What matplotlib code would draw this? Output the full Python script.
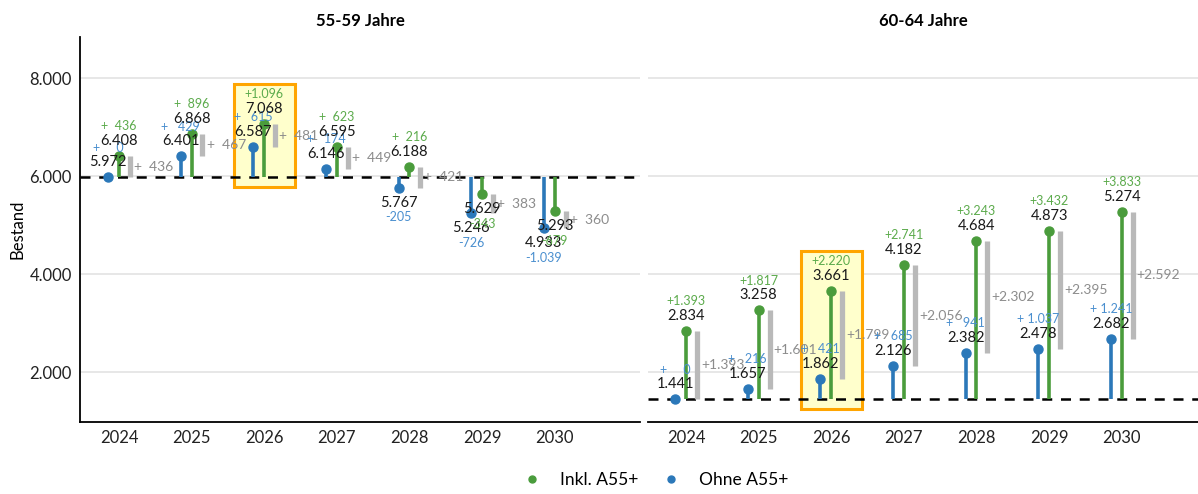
import matplotlib
matplotlib.use("Agg")
import matplotlib.pyplot as plt
from matplotlib.patches import Rectangle
from matplotlib.lines import Line2D

plt.rcParams["font.family"] = ["Lato", "DejaVu Sans"]

years = [2024, 2025, 2026, 2027, 2028, 2029, 2030]

# 55-59 Jahre
ohne_55 = [5972, 6401, 6587, 6146, 5767, 5246, 4933]
inkl_55 = [6408, 6868, 7068, 6595, 6188, 5629, 5293]
# 60-64 Jahre
ohne_60 = [1441, 1657, 1862, 2126, 2382, 2478, 2682]
inkl_60 = [2834, 3258, 3661, 4182, 4684, 4873, 5274]

highlight_year = 2026

GREEN = "#4a9c3c"
BLUE = "#2b78b9"
GREEN_TXT = "#5cab4c"
BLUE_TXT = "#4a8fcf"
GREY_BAR = "#b9b9b9"
GREY_TXT = "#8c8c8c"


def de(n):
    return f"{abs(n):,}".replace(",", ".")


def delta(n, width):
    if n < 0:
        return "-" + de(n)
    return "+" + de(n).rjust(width)


def panel(ax, ohne, inkl, title, xlim):
    base = ohne[0]
    ax.set_xlim(*xlim)
    ax.set_ylim(980, 8840)
    ax.grid(axis="y", color="#e3e3e3", linewidth=1.2, zorder=0)
    ax.set_axisbelow(True)

    i = years.index(highlight_year)
    ax.add_patch(Rectangle((highlight_year - 0.42, base - 200), 0.84,
                           inkl[i] + 820 - (base - 200),
                           facecolor="#ffffcc", edgecolor="#ffa500",
                           linewidth=2.2, zorder=1))

    ax.axhline(base, color="black", linestyle=(0, (4, 3.5)), linewidth=1.8, zorder=2)

    for y, o, k in zip(years, ohne, inkl):
        xb, xg, xr = y - 0.15, y, y + 0.15
        ax.plot([xb, xb], [base, o], color=BLUE, linewidth=2.6, zorder=3,
                solid_capstyle="butt")
        ax.plot(xb, o, "o", color=BLUE, markersize=6.5, zorder=4)
        ax.plot([xg, xg], [base, k], color=GREEN, linewidth=2.6, zorder=3,
                solid_capstyle="butt")
        ax.plot(xg, k, "o", color=GREEN, markersize=6.5, zorder=4)
        ax.plot([xr, xr], [o, k], color=GREY_BAR, linewidth=3.8, zorder=3,
                solid_capstyle="butt")

        for x, v, col, w in ((xb, o, BLUE_TXT, 6), (xg, k, GREEN_TXT, 5)):
            d = v - base
            sgn = 1 if d >= 0 else -1
            ax.annotate(de(v), (x, v), xytext=(0, 10.8 * sgn),
                        textcoords="offset points", ha="center", va="center",
                        fontsize=10.5, color="#1a1a1a", zorder=5)
            ax.annotate(delta(d, w), (x, v), xytext=(0, 21.5 * sgn),
                        textcoords="offset points", ha="center", va="center",
                        fontsize=9, color=col, zorder=5)

        ax.annotate(delta(k - o, 5), (xr, (o + k) / 2), xytext=(3, 0),
                    textcoords="offset points", ha="left", va="center",
                    fontsize=10, color=GREY_TXT, zorder=5)

    ax.set_title(title, fontsize=12, fontweight="bold", pad=8)
    ax.set_xticks(years)
    ax.set_xticklabels([str(y) for y in years])
    ax.set_yticks([2000, 4000, 6000, 8000])
    ax.set_yticklabels([de(v) for v in [2000, 4000, 6000, 8000]])
    ax.tick_params(length=0, labelsize=12, colors="#222222", pad=6)
    for s in ["top", "right"]:
        ax.spines[s].set_visible(False)
    ax.spines["bottom"].set_linewidth(1.3)
    ax.spines["left"].set_linewidth(1.3)


fig = plt.figure(figsize=(11.98, 4.94), dpi=100)
ax1 = fig.add_axes([80 / 1198, 72 / 494, 560 / 1198, 385 / 494])
ax2 = fig.add_axes([648 / 1198, 72 / 494, 550 / 1198, 385 / 494])

panel(ax1, ohne_55, inkl_55, "55-59 Jahre", (2023.463, 2031.176))
panel(ax2, ohne_60, inkl_60, "60-64 Jahre", (2023.477, 2031.05))

ax1.set_ylabel("Bestand", fontsize=12, labelpad=3)
ax2.spines["left"].set_visible(False)
ax2.set_yticklabels([])

handles = [
    Line2D([], [], marker="o", linestyle="", color=GREEN, markersize=5, label="Inkl. A55+"),
    Line2D([], [], marker="o", linestyle="", color=BLUE, markersize=5, label="Ohne A55+"),
]
fig.legend(handles=handles, loc="lower center", ncol=2, frameon=False,
           fontsize=12.5, bbox_to_anchor=(0.544, -0.02), handletextpad=0.6,
           columnspacing=0.9)

fig.savefig("out.png", dpi=100)
